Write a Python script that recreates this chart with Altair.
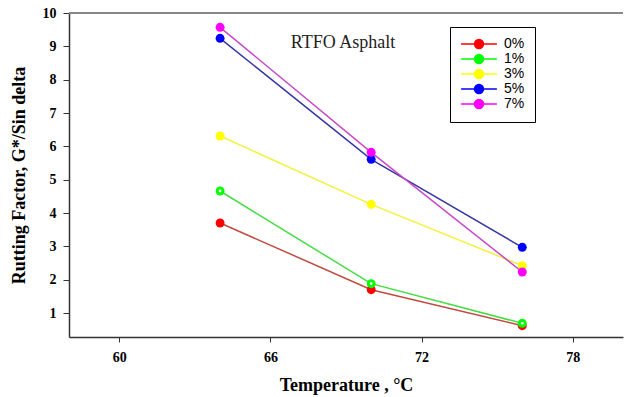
import altair as alt
import pandas as pd

temps = [64, 70, 76]
series = ["0%", "1%", "3%", "5%", "7%"]
v0 = [3.70, 1.70, 0.62]
v1 = [4.66, 1.88, 0.69]
v3 = [6.31, 4.26, 2.42]
v5 = [9.24, 5.61, 2.97]
v7 = [9.57, 5.82, 2.23]
marker_colors = ["#ff0000", "#00ff00", "#ffff00", "#0000ff", "#ff00ff"]
line_colors = ["#c04a40", "#44dd44", "#f2f23a", "#3535a5", "#c848c8"]

rows = []
for name, vals in zip(series, [v0, v1, v3, v5, v7]):
    for t, v in zip(temps, vals):
        rows.append({"temp": t, "val": v, "series": name})
df = pd.DataFrame(rows)

W, H = 554, 324
xs = alt.Scale(domain=[58, 80], nice=False)
ys = alt.Scale(domain=[0.28, 10], nice=False)

xaxis = alt.Axis(values=[60, 66, 72, 78], title="Temperature , \u00b0C", labelFont="Liberation Serif",
                 labelFontWeight="bold", labelFontSize=14, titleFont="Liberation Serif",
                 titleFontWeight="bold", titleFontSize=18, tickSize=5, labelPadding=8,
                 titlePadding=12, domainColor="#333", domainWidth=1.5, tickColor="#333",
                 labelColor="#000", titleColor="#000", grid=False, labelOverlap=False)
yaxis = alt.Axis(values=[1, 2, 3, 4, 5, 6, 7, 8, 9, 10], title="Rutting Factor, G*/Sin delta",
                 labelFont="Liberation Serif", labelFontWeight="bold", labelFontSize=14,
                 titleFont="Liberation Serif", titleFontWeight="bold", titleFontSize=18,
                 tickSize=6, labelPadding=7, titlePadding=14, domainColor="#333",
                 domainWidth=1.5, tickColor="#333", labelColor="#000", titleColor="#000",
                 grid=False, labelOverlap=False)

base = alt.Chart(df)

lines = base.mark_line(strokeWidth=1.5).encode(
    x=alt.X("temp:Q", scale=xs, axis=xaxis),
    y=alt.Y("val:Q", scale=ys, axis=yaxis),
    color=alt.Color("series:N", scale=alt.Scale(domain=series, range=line_colors), legend=None),
    detail="series:N",
)

legend_path = "M-4,0H4M-1,0A1,1,0,1,0,1,0A1,1,0,1,0,-1,0Z"
leg = alt.Legend(title=None, orient="none", legendX=381, legendY=14,
                 symbolType=legend_path, symbolSize=80, symbolStrokeWidth=1.5,
                 labelFont="Liberation Sans", labelFontSize=14,
                 labelColor="#000", labelOffset=18, symbolOffset=12,
                 strokeColor="#000", fillColor="white", padding=10,
                 rowPadding=-5, cornerRadius=0)
mscale = alt.Scale(domain=series, range=marker_colors)

points = base.mark_point(filled=True, size=80, opacity=1).encode(
    x=alt.X("temp:Q", scale=xs, axis=xaxis),
    y=alt.Y("val:Q", scale=ys, axis=yaxis),
    fill=alt.Fill("series:N", scale=mscale, legend=None),
)

legend_layer = base.transform_filter("false").mark_point(
    shape=legend_path, filled=True, size=80, strokeWidth=1.5, opacity=1).encode(
    fill=alt.Fill("series:N", scale=mscale, legend=leg),
    stroke=alt.Stroke("series:N", scale=mscale, legend=leg),
)

holes = base.transform_filter(alt.datum.series == "1%").mark_point(
    filled=True, size=8, color="white", opacity=1).encode(
    x=alt.X("temp:Q", scale=xs, axis=xaxis),
    y=alt.Y("val:Q", scale=ys, axis=yaxis),
)

top_rule = alt.Chart(pd.DataFrame({"a": [0]})).mark_rule(color="#888", strokeWidth=2).encode(
    x=alt.value(0), x2=alt.value(W), y=alt.value(0))

title = alt.Chart(pd.DataFrame({"t": ["RTFO Asphalt"]})).mark_text(
    font="Liberation Serif", fontSize=18, color="#222", align="center", baseline="middle").encode(
    text="t:N", x=alt.value(274), y=alt.value(30))

chart = alt.layer(top_rule, lines, points, holes, legend_layer, title).resolve_scale(
    color="independent").resolve_legend(fill="independent", stroke="independent").properties(
    width=W, height=H, autosize=alt.AutoSizeParams(type="none"),
    padding={"left": 69, "top": 13, "right": 2, "bottom": 60}, background="white",
).configure_view(stroke=None).configure_axis(labelOverlap=False)

chart.save("out.html", embed_options={"renderer": "svg", "actions": False})
